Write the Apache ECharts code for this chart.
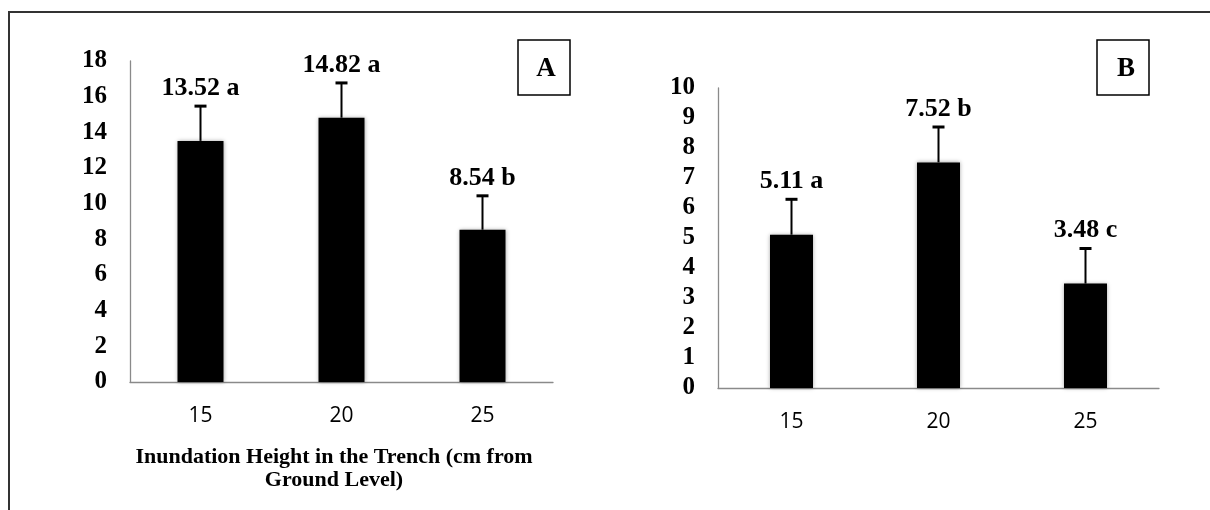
<!DOCTYPE html>
<html>
<head>
<meta charset="utf-8">
<script src="https://cdn.jsdelivr.net/npm/echarts@6/dist/echarts.min.js"></script>
<style>
html,body{margin:0;padding:0;background:#fff;}
#chart{width:1210px;height:510px;}
</style>
</head>
<body>
<div id="chart"></div>
<script>
const categories = ['15', '20', '25'];
const valuesA = [13.52, 14.82, 8.54];
const errorsA = [1.95, 1.95, 1.9];
const lettersA = ['a', 'a', 'b'];
const valuesB = [5.11, 7.52, 3.48];
const errorsB = [1.18, 1.18, 1.17];
const lettersB = ['a', 'b', 'c'];
const axisMaxA = 18, axisStepA = 2;
const axisMaxB = 10, axisStepB = 1;
const panelLabels = ['A', 'B'];
const xAxisTitle = 'Inundation Height in the Trench (cm from\nGround Level)';

const serif = '"Liberation Serif", "Times New Roman", serif';
const sans = '"Open Sans", "Liberation Sans", sans-serif';

function errRender(values, errors, letters) {
  return function (params, api) {
    const i = params.dataIndex;
    const base = api.coord([api.value(0), api.value(1)]);
    const top = api.coord([api.value(0), api.value(1) + api.value(2)]);
    return {
      type: 'group',
      children: [
        { type: 'line', shape: { x1: base[0], y1: base[1], x2: top[0], y2: top[1] }, style: { stroke: '#000', lineWidth: 2 } },
        { type: 'line', shape: { x1: top[0] - 6, y1: top[1], x2: top[0] + 6, y2: top[1] }, style: { stroke: '#000', lineWidth: 3 } },
        { type: 'text', x: top[0], y: top[1] - 5, style: { text: values[i].toFixed(2) + ' ' + letters[i], font: 'bold 26px ' + serif, fill: '#000', align: 'center', verticalAlign: 'bottom' } }
      ]
    };
  };
}

function yAxisCfg(gridIndex, max, step) {
  return {
    type: 'value', gridIndex: gridIndex, min: 0, max: max, interval: step,
    axisLine: { show: true, lineStyle: { color: '#8a8a8a', width: 1.3 } },
    axisTick: { show: false },
    splitLine: { show: false },
    axisLabel: { color: '#000', fontFamily: serif, fontWeight: 'bold', fontSize: 25, margin: 23 }
  };
}
function xAxisCfg(gridIndex, withName) {
  const cfg = {
    type: 'category', gridIndex: gridIndex, data: categories,
    axisLine: { show: true, lineStyle: { color: '#8a8a8a', width: 1.3 } },
    axisTick: { show: false },
    axisLabel: { color: '#000', fontFamily: sans, fontSize: 21, margin: 24 }
  };
  if (withName) {
    cfg.name = xAxisTitle;
    cfg.nameLocation = 'middle';
    cfg.nameGap = 64;
    cfg.nameTextStyle = { color: '#000', fontFamily: serif, fontWeight: 'bold', fontSize: 22, lineHeight: 23, padding: [0, 15, 0, 0] };
  }
  return cfg;
}

const barStyle = { color: '#000', shadowBlur: 4, shadowColor: 'rgba(0,0,0,0.35)' };

const option = {
  backgroundColor: '#fff',
  animation: false,
  grid: [
    { left: 130, top: 61, width: 423, height: 321 },
    { left: 718, top: 88, width: 441, height: 300 }
  ],
  xAxis: [xAxisCfg(0, true), xAxisCfg(1, false)],
  yAxis: [yAxisCfg(0, axisMaxA, axisStepA), yAxisCfg(1, axisMaxB, axisStepB)],
  series: [
    { type: 'bar', xAxisIndex: 0, yAxisIndex: 0, data: valuesA, barWidth: 46, itemStyle: barStyle },
    { type: 'bar', xAxisIndex: 1, yAxisIndex: 1, data: valuesB, barWidth: 43, itemStyle: barStyle },
    { type: 'custom', xAxisIndex: 0, yAxisIndex: 0, z: 5, renderItem: errRender(valuesA, errorsA, lettersA),
      data: categories.map((c, i) => [i, valuesA[i], errorsA[i]]) },
    { type: 'custom', xAxisIndex: 1, yAxisIndex: 1, z: 5, renderItem: errRender(valuesB, errorsB, lettersB),
      data: categories.map((c, i) => [i, valuesB[i], errorsB[i]]) }
  ],
  graphic: [
    { type: 'polyline', shape: { points: [[9, 510], [9, 12], [1210, 12]] }, style: { stroke: '#333', lineWidth: 2, fill: null } },
    { type: 'rect', shape: { x: 518, y: 40, width: 52, height: 55 }, style: { stroke: '#000', lineWidth: 1.5, fill: '#fff' } },
    { type: 'text', x: 546, y: 69, style: { text: panelLabels[0], font: 'bold 27px ' + serif, fill: '#000', align: 'center', verticalAlign: 'middle' } },
    { type: 'rect', shape: { x: 1097, y: 40, width: 52, height: 55 }, style: { stroke: '#000', lineWidth: 1.5, fill: '#fff' } },
    { type: 'text', x: 1126, y: 69, style: { text: panelLabels[1], font: 'bold 27px ' + serif, fill: '#000', align: 'center', verticalAlign: 'middle' } }
  ]
};

const chart = echarts.init(document.getElementById('chart'), null, { renderer: 'canvas' });
chart.setOption(option);
</script>
</body>
</html>
